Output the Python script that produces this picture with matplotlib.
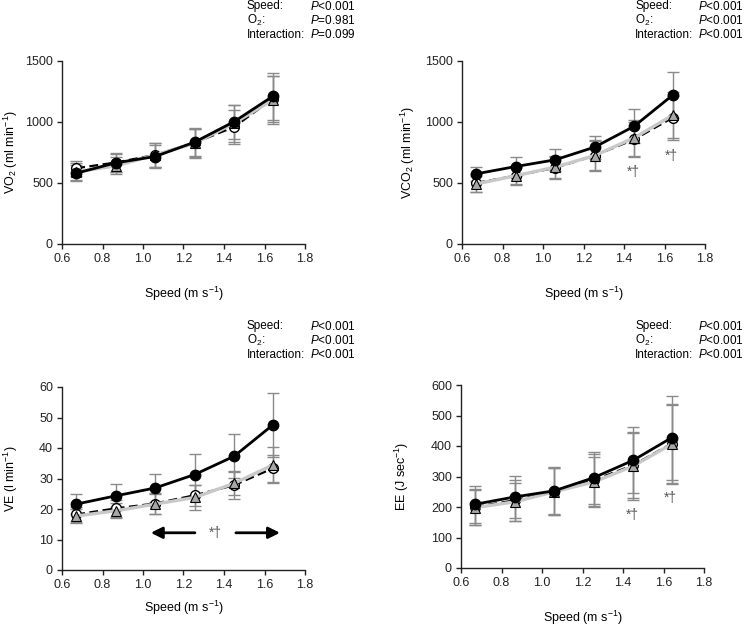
import matplotlib
matplotlib.use("Agg")
import matplotlib.pyplot as plt

plt.rcParams['font.family'] = ['Liberation Sans', 'DejaVu Sans']
plt.rcParams['mathtext.fontset'] = 'custom'
plt.rcParams['mathtext.rm'] = 'Liberation Sans'
plt.rcParams['mathtext.it'] = 'Liberation Sans:italic'

speed = [0.67, 0.865, 1.06, 1.255, 1.45, 1.64]

# VO2 (ml min-1)
vo2_black = [580, 665, 717, 835, 1003, 1210]
vo2_open = [621, 668, 730, 830, 959, 1190]
vo2_tri = [592, 640, 730, 825, 990, 1180]
vo2_black_err = [65, 75, 95, 115, 140, 190]
vo2_open_err = [60, 75, 95, 115, 140, 190]
vo2_tri_err = [70, 70, 95, 120, 150, 200]

# VCO2 (ml min-1)
vco2_black = [575, 635, 690, 794, 965, 1220]
vco2_open = [500, 560, 624, 725, 857, 1035]
vco2_tri = [492, 560, 630, 725, 870, 1055]
vco2_black_err = [60, 80, 90, 95, 140, 190]
vco2_open_err = [70, 75, 90, 125, 145, 180]
vco2_tri_err = [65, 70, 90, 120, 150, 190]

# VE (l min-1)
ve_black = [21.6, 24.3, 26.9, 31.3, 37.3, 47.5]
ve_open = [18.2, 20.2, 21.8, 24.5, 27.8, 33.3]
ve_tri = [17.7, 19.4, 21.6, 23.8, 28.4, 34.4]
ve_black_err = [3.2, 3.8, 4.7, 6.7, 7.2, 10.6]
ve_open_err = [2.5, 2.7, 3.3, 3.5, 4.5, 4.5]
ve_tri_err = [2.3, 2.5, 3.2, 4.0, 3.8, 6.0]

# EE (J sec-1)
ee_black = [209, 233, 253, 296, 353, 427]
ee_open = [200, 222, 250, 288, 337, 408]
ee_tri = [198, 217, 250, 282, 334, 406]
ee_black_err = [60, 70, 77, 85, 108, 138]
ee_open_err = [58, 68, 77, 85, 108, 130]
ee_tri_err = [57, 62, 77, 82, 110, 130]

stats_labels = ['Speed:', 'O$_2$:', 'Interaction:']
stats_vo2 = ['$\\it{P}$<0.001', '$\\it{P}$=0.981', '$\\it{P}$=0.099']
stats_other = ['$\\it{P}$<0.001', '$\\it{P}$<0.001', '$\\it{P}$<0.001']

fig = plt.figure(figsize=(7.45, 6.26), dpi=100)

panels = [
    dict(rect=[62/745, 1-244/626, 243/745, 183/626], ylim=(0, 1500), yticks=[0, 500, 1000, 1500],
         ylabel='VO$_2$ (ml min$^{-1}$)', data=(vo2_black, vo2_open, vo2_tri),
         err=(vo2_black_err, vo2_open_err, vo2_tri_err), stats=stats_vo2, txt=(247, 6),
         xlab_pad=14.5, ylab_x=-0.172),
    dict(rect=[462/745, 1-244/626, 243/745, 183/626], ylim=(0, 1500), yticks=[0, 500, 1000, 1500],
         ylabel='VCO$_2$ (ml min$^{-1}$)', data=(vco2_black, vco2_open, vco2_tri),
         err=(vco2_black_err, vco2_open_err, vco2_tri_err), stats=stats_other, txt=(635, 6),
         xlab_pad=14.5, ylab_x=-0.185),
    dict(rect=[62/745, 1-570/626, 243/745, 183/626], ylim=(0, 60), yticks=[0, 10, 20, 30, 40, 50, 60],
         ylabel='VE (l min$^{-1}$)', data=(ve_black, ve_open, ve_tri),
         err=(ve_black_err, ve_open_err, ve_tri_err), stats=stats_other, txt=(247, 326),
         xlab_pad=5.5, ylab_x=-0.172),
    dict(rect=[461/745, 1-568/626, 243/745, 183/626], ylim=(0, 600), yticks=[0, 100, 200, 300, 400, 500, 600],
         ylabel='EE (J sec$^{-1}$)', data=(ee_black, ee_open, ee_tri),
         err=(ee_black_err, ee_open_err, ee_tri_err), stats=stats_other, txt=(635, 326),
         xlab_pad=14, ylab_x=-0.205),
]

axes = []
for p in panels:
    ax = fig.add_axes(p['rect'])
    axes.append(ax)
    black, opn, tri = p['data']
    eb, eo, et = p['err']
    ecol = '#8a8a8a'
    ax.errorbar(speed, opn, yerr=eo, fmt='none', ecolor=ecol, elinewidth=1.0, capsize=4, capthick=1.0, zorder=1)
    ax.errorbar(speed, tri, yerr=et, fmt='none', ecolor=ecol, elinewidth=1.0, capsize=4, capthick=1.0, zorder=1)
    ax.errorbar(speed, black, yerr=eb, fmt='none', ecolor=ecol, elinewidth=1.0, capsize=4, capthick=1.0, zorder=1)
    ax.plot(speed, opn, color='black', lw=1.6, ls=(0, (4, 2)), marker='o', ms=7,
            mfc='white', mec='black', mew=1.0, zorder=3)
    ax.plot(speed, tri, color='#c8c8c8', lw=2.4, marker='^', ms=7,
            mfc='#a8a8a8', mec='black', mew=0.8, zorder=4)
    ax.plot(speed, black, color='black', lw=2.0, marker='o', ms=7.5,
            mfc='black', mec='black', zorder=5)
    ax.set_xlim(0.6, 1.8)
    ax.set_xticks([0.6, 0.8, 1.0, 1.2, 1.4, 1.6, 1.8])
    ax.set_xticklabels(['0.6', '0.8', '1.0', '1.2', '1.4', '1.6', '1.8'])
    ax.set_ylim(*p['ylim'])
    ax.set_yticks(p['yticks'])
    for s in ['top', 'right']:
        ax.spines[s].set_visible(False)
    for s in ['left', 'bottom']:
        ax.spines[s].set_linewidth(1.0)
        ax.spines[s].set_color('#222222')
    ax.tick_params(direction='out', length=3.5, width=1.0, labelsize=9, colors='#222222', pad=3)
    ax.set_ylabel(p['ylabel'], fontsize=9)
    ax.yaxis.set_label_coords(p['ylab_x'], 0.5)
    ax.set_xlabel('Speed (m s$^{-1}$)', fontsize=9, labelpad=p['xlab_pad'])
    tx, ty = p['txt']
    for i, (lab, val) in enumerate(zip(stats_labels, p['stats'])):
        yy = 1 - (ty + i * 14.3) / 626
        fig.text(tx / 745, yy, lab, ha='left', va='center', fontsize=8.5)
        fig.text((tx + 109) / 745, yy, val, ha='right', va='center', fontsize=8.5)

# significance markers
sig_col = '#555555'
axes[1].text(1.444, 588, '*†', ha='center', va='center', fontsize=10, color=sig_col)
axes[1].text(1.632, 725, '*†', ha='center', va='center', fontsize=10, color=sig_col)
axes[3].text(1.444, 174, '*†', ha='center', va='center', fontsize=10, color=sig_col)
axes[3].text(1.632, 228, '*†', ha='center', va='center', fontsize=10, color=sig_col)
axes[2].text(1.355, 12.2, '*†', ha='center', va='center', fontsize=10, color=sig_col)
axes[2].annotate('', xy=(1.025, 12.2), xytext=(1.27, 12.2),
                 arrowprops=dict(arrowstyle='-|>', color='black', lw=2.0, mutation_scale=17))
axes[2].annotate('', xy=(1.69, 12.2), xytext=(1.445, 12.2),
                 arrowprops=dict(arrowstyle='-|>', color='black', lw=2.0, mutation_scale=17))

fig.savefig('out.png', dpi=100)
